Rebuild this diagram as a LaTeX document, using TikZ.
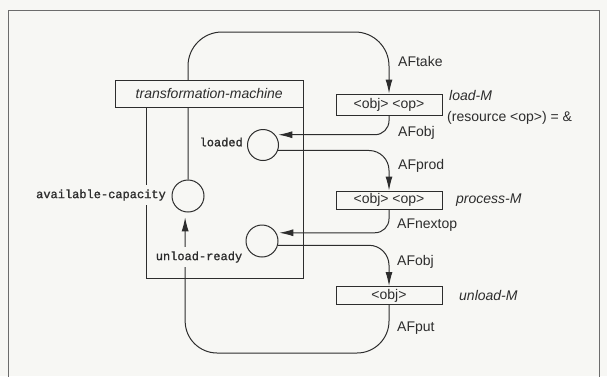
\documentclass[tikz,border=0pt]{standalone}
\usepackage{fontspec}
\setmainfont{Liberation Sans}
\newfontfamily\statefont{Liberation Mono}[FakeBold=1.2]
\usetikzlibrary{arrows.meta,positioning,calc}
\definecolor{paper}{RGB}{247,247,244}
\definecolor{ink}{RGB}{45,45,45}
\pgfdeclarelayer{paperlayer}
\pgfdeclarelayer{wires}
\pgfsetlayers{paperlayer,wires,main}

\begin{document}
\begin{tikzpicture}[x=1pt,y=-1pt,
    every node/.style={text=ink, font=\fontsize{14}{16}\selectfont},
    italic/.style={font=\itshape\fontsize{14}{16}\selectfont},
    opbox/.style={draw=ink, line width=1pt, fill=paper, inner sep=0pt, minimum width=106pt},
    statecirc/.style={draw=ink, line width=1pt, circle, minimum size=31pt, inner sep=0pt},
    statelbl/.style={font=\statefont\fontsize{12}{14}\selectfont, fill=paper, inner xsep=1pt, inner ysep=4pt},
    arclbl/.style={anchor=west, inner sep=0pt},
    wire/.style={draw=ink, line width=1pt, -{Latex[length=14pt,width=7pt]}}]
    \useasboundingbox (0,0) rectangle (607,376);

    % Paper and frame
    \begin{pgfonlayer}{paperlayer}
        \fill[paper] (0,0) rectangle (607,376);
        \draw[ink!70, line width=0.6pt] (8.5,377) |- (599,10) -- (599,377);
    \end{pgfonlayer}

    % Machine
    \node[draw=ink, line width=1pt, minimum width=156.5pt, minimum height=171pt, inner sep=0pt] (mach) at (224.75,192.5) {};
    \node[opbox, italic, minimum width=187.5pt, minimum height=27pt] (tm) at (209.25,93.5) {transformation-machine};

    % States
    \node[statecirc] (loaded) at (263,145) {};
    \node[statecirc, minimum size=32pt] (avail) at (188,196) {};
    \node[statecirc, minimum size=32pt] (unl) at (262,241) {};
    \node[statelbl, anchor=east] (loadedlbl) at (244,142) {loaded};
    \node[statelbl, anchor=east] (availlbl) at (167,195) {available-capacity};
    \node[statelbl] (unllbl) at (199,257) {unload-ready};

    % Operations
    \node[opbox, minimum height=21pt] (ldbox) at (389,104.5) {<obj> <op>};
    \node[opbox, minimum height=18pt] (prbox) at (389,200) {<obj> <op>};
    \node[opbox, minimum height=18pt] (ulbox) at (389,295.5) {<obj>};
    \node[arclbl, italic] (ldname) at (449,95) {load-M};
    \node[arclbl] (ldres) at (447,118) {(resource <op>) = \&};
    \node[arclbl, italic] (prname) at (456,200) {process-M};
    \node[arclbl, italic] (ulname) at (459,295) {unload-M};

    % Arc labels
    \node[arclbl] (aftake) at (398,61) {AFtake};
    \node[arclbl] (afobjin) at (398,133) {AFobj};
    \node[arclbl] (afprod) at (398,166) {AFprod};
    \node[arclbl] (afnextop) at (397,225) {AFnextop};
    \node[arclbl] (afobjout) at (397,262) {AFobj};
    \node[arclbl] (afput) at (397,328) {AFput};

    \coordinate (topturn) at (389,32);
    \coordinate (botturn) at (389,353);

    % Arcs
    \begin{pgfonlayer}{wires}
        \draw[wire, rounded corners=34pt] (avail.north) |- (topturn) -- (ldbox.north);
        \draw[wire, rounded corners=14pt, shorten >=3pt] (ldbox.south) |- (loaded.40);
        \draw[wire, rounded corners=20pt] (loaded.-20) -| (prbox.north);
        \draw[wire, rounded corners=14pt, shorten >=3pt] (prbox.south) |- (unl.30);
        \draw[wire, rounded corners=20pt] (unl.-15) -| (ulbox.north);
        \draw[wire, rounded corners=32pt, shorten >=5pt] (ulbox.south) -- (botturn) -| (avail.-100);
    \end{pgfonlayer}
\end{tikzpicture}
\end{document}
